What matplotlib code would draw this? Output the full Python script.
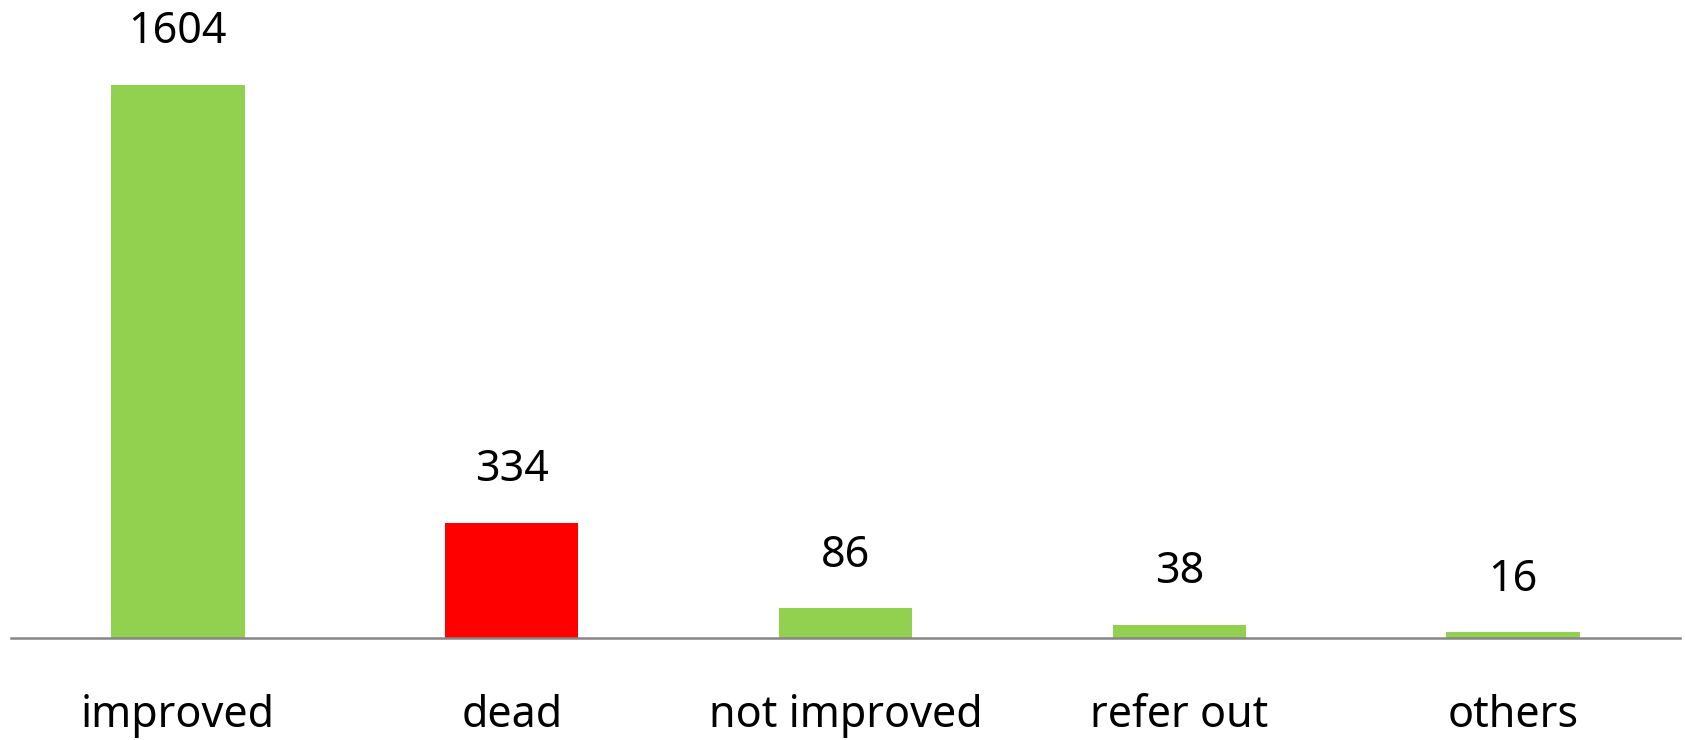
import matplotlib
matplotlib.use("Agg")
import matplotlib.pyplot as plt

categories = ['improved', 'dead', 'not improved', 'refer out', 'others']
counts = [1604, 334, 86, 38, 16]
colors = ['#92D050', '#FF0000', '#92D050', '#92D050', '#92D050']

plt.rcParams['font.family'] = ['Noto Sans', 'DejaVu Sans']

fig = plt.figure(figsize=(16.85, 7.40), dpi=100)
ax = fig.add_axes([11/1685, 1-638/740, 1669/1685, 638/740])
x = range(len(categories))
ax.bar(x, counts, width=0.4, color=colors)
ax.set_xlim(-0.5, len(categories)-0.5)
ax.set_ylim(0, 1850)

for xi, v in zip(x, counts):
    ax.annotate(str(v), (xi, v), xytext=(0, 38), textcoords='offset points',
                ha='center', va='center', fontsize=31, color='black')

ax.set_xticks(list(x))
ax.set_xticklabels(categories, fontsize=31, va='center')
ax.tick_params(axis='x', length=0, pad=56)
ax.set_yticks([])
for s in ['top', 'right', 'left']:
    ax.spines[s].set_visible(False)
ax.spines['bottom'].set_color('#868686')
ax.spines['bottom'].set_linewidth(1.8)

fig.savefig('out.png', dpi=100)
